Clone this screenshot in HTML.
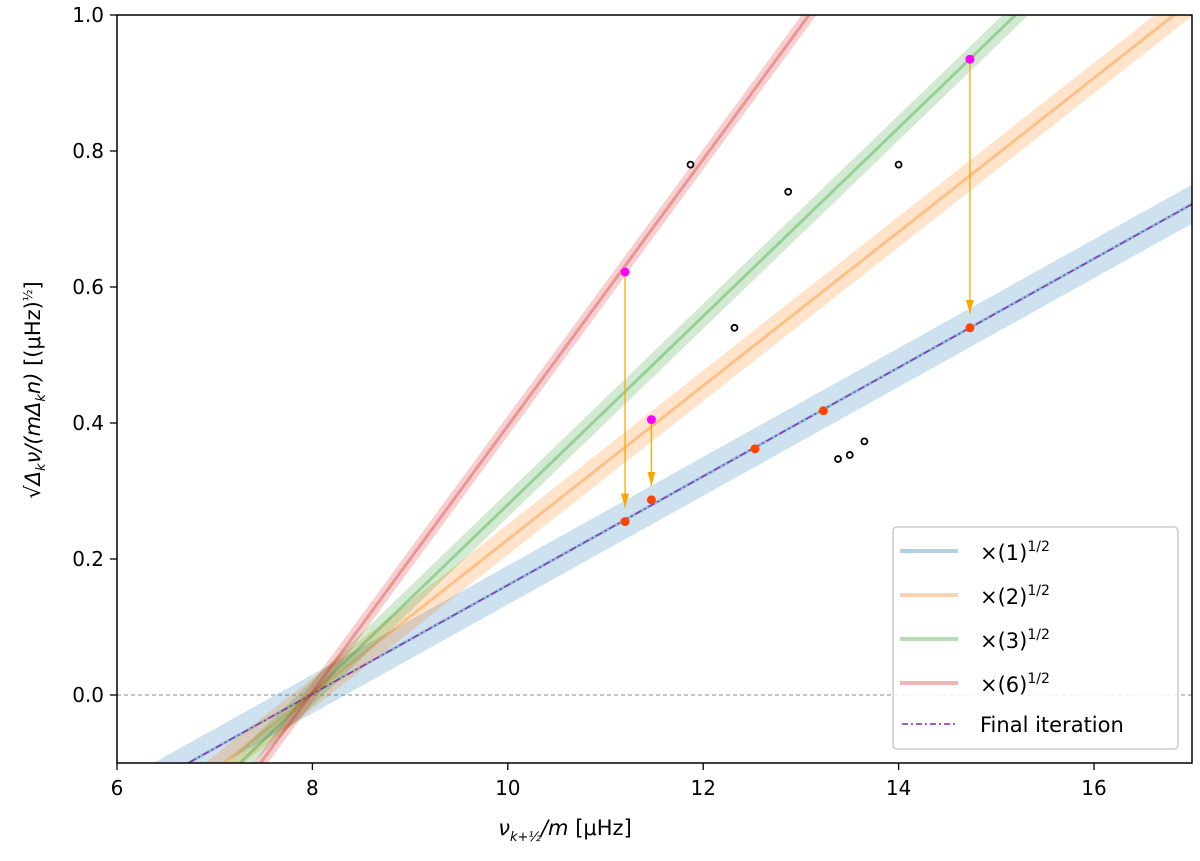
<!DOCTYPE html>
<html><head><meta charset="utf-8"><style>
html,body{margin:0;background:#fff;overflow:hidden;width:1200px;height:861px;}
svg{display:block;}
svg text{font-family:"DejaVu Sans","Liberation Sans",sans-serif;fill:#000;}
</style></head><body>
<svg width="1200" height="861" id="chart" style="position:absolute;left:0;top:0">
<defs><clipPath id="clip"><rect x="117" y="15" width="1075" height="748"/></clipPath>
<marker id="arr" markerWidth="16" markerHeight="10" refX="14" refY="4" orient="auto" markerUnits="userSpaceOnUse"><path d="M0,0 L14,4 L0,8 Z" fill="orange"/></marker></defs>
<g id="plot" clip-path="url(#clip)"></g>
<g id="axes"></g>
</svg>
<script>
const xTicks=[6,8,10,12,14,16];
const yTicks=[0.0,0.2,0.4,0.6,0.8,1.0];
const factors=[1,2,3,6];
const baseSlope=0.08, pivot=7.98;
const colors=['#1f77b4','#ff7f0e','#2ca02c','#d62728'];
const bandW=[34,24,18,12];
const openX=[11.87,12.87,14.0,12.32,13.38,13.5,13.65];
const openY=[0.78,0.74,0.78,0.54,0.347,0.353,0.373];
const magX=[11.2,11.47,14.73];
const magY=[0.622,0.405,0.935];
const redX=[11.2,11.47,12.53,13.23,14.73];
const redY=[0.255,0.287,0.362,0.418,0.54];
const sx=v=>117+(v-6)*97.7;
const sy=v=>695-v*680;
const NS='http://www.w3.org/2000/svg';
function mk(tag,attrs,parent){const e=document.createElementNS(NS,tag);for(const k in attrs)e.setAttribute(k,attrs[k]);parent.appendChild(e);return e;}
const plot=document.getElementById('plot'),axes=document.getElementById('axes');
const zl=mk('line',{x1:117,x2:1192,y1:sy(0),y2:sy(0),stroke:'#888','stroke-width':1,'stroke-dasharray':'4,3'},plot);


factors.forEach((f,i)=>{
 const s=baseSlope*Math.sqrt(f);
 const x1=5,x2=18;
 const b=mk('line',{x1:sx(x1),y1:sy(s*(x1-pivot)),x2:sx(x2),y2:sy(s*(x2-pivot)),stroke:colors[i],'stroke-width':bandW[i],'stroke-opacity':0.22},plot);
 
 
 const l=mk('line',{x1:sx(x1),y1:sy(s*(x1-pivot)),x2:sx(x2),y2:sy(s*(x2-pivot)),stroke:colors[i],'stroke-width':3,'stroke-opacity':0.35},plot);
 
 
});
const fin=mk('line',{x1:sx(5),y1:sy(baseSlope*(5-pivot)),x2:sx(18),y2:sy(baseSlope*(18-pivot)),stroke:'#8e24aa','stroke-width':1.3,'stroke-dasharray':'7,3,2,3'},plot);


magX.forEach((x,i)=>{
 const ty=redY[redX.indexOf(x)];
 const a=mk('line',{x1:sx(x),y1:sy(magY[i]),x2:sx(x),y2:sy(ty)-14,stroke:'orange','stroke-width':1.3,'marker-end':'url(#arr)'},plot);
 
 
});
openX.forEach((x,i)=>{const c=mk('circle',{cx:sx(x),cy:sy(openY[i]),r:3,fill:'none',stroke:'#000','stroke-width':1.8},plot);
 
 });
magX.forEach((x,i)=>{const c=mk('circle',{cx:sx(x),cy:sy(magY[i]),r:4.5,fill:'#ff00ff'},plot);
 
 });
redX.forEach((x,i)=>{const c=mk('circle',{cx:sx(x),cy:sy(redY[i]),r:4.5,fill:'#ff4500'},plot);
 
 });
const fr=mk('rect',{x:117,y:15,width:1075,height:748,fill:'none',stroke:'#000','stroke-width':1.5},axes);


xTicks.forEach(t=>{mk('line',{x1:sx(t),x2:sx(t),y1:763,y2:770,stroke:'#000','stroke-width':1.3},axes);
 const tx=mk('text',{x:sx(t),y:795,'text-anchor':'middle','font-size':20},axes);tx.textContent=t;
 
 });
yTicks.forEach(t=>{mk('line',{x1:110,x2:117,y1:sy(t),y2:sy(t),stroke:'#000','stroke-width':1.3},axes);
 const tx=mk('text',{x:104,y:sy(t)+7,'text-anchor':'end','font-size':20},axes);tx.textContent=t.toFixed(1);
 
 });
</script>
<svg style="position:absolute;left:0;top:0" width="1200" height="861">
<text x="565" y="835" font-size="21" text-anchor="middle" font-family="DejaVu Sans,sans-serif"><tspan font-style="italic">ν</tspan><tspan font-size="13" font-style="italic" dy="6">k+½</tspan><tspan dy="-6" font-style="italic">/m</tspan>  [μHz]</text>
<text transform="translate(40,390) rotate(-90)" font-size="21" text-anchor="middle" font-family="DejaVu Sans,sans-serif">√<tspan font-style="italic">Δ<tspan font-size="13" dy="5">k</tspan><tspan dy="-5">ν/(mΔ</tspan><tspan font-size="13" dy="5">k</tspan><tspan dy="-5">n)</tspan></tspan>   [(μHz)<tspan font-size="12" dy="-8">½</tspan><tspan dy="8">]</tspan></text>
<g font-family="DejaVu Sans,sans-serif" font-size="21">
<rect x="893" y="527" width="285" height="222" rx="4" fill="#fff" fill-opacity="0.85" stroke="#ccc" stroke-width="1.5"/>
<line x1="900" x2="958" y1="551" y2="551" stroke="#1f77b4" stroke-opacity="0.35" stroke-width="4"/>
<text x="980" y="560">×(1)<tspan font-size="14" dy="-9">1/2</tspan></text>
<line x1="900" x2="958" y1="595" y2="595" stroke="#ff7f0e" stroke-opacity="0.35" stroke-width="4"/>
<text x="980" y="604">×(2)<tspan font-size="14" dy="-9">1/2</tspan></text>
<line x1="900" x2="958" y1="639" y2="639" stroke="#2ca02c" stroke-opacity="0.35" stroke-width="4"/>
<text x="980" y="648">×(3)<tspan font-size="14" dy="-9">1/2</tspan></text>
<line x1="900" x2="958" y1="683" y2="683" stroke="#d62728" stroke-opacity="0.35" stroke-width="4"/>
<text x="980" y="692">×(6)<tspan font-size="14" dy="-9">1/2</tspan></text>
<line x1="902" x2="956" y1="724" y2="724" stroke="#8e24aa" stroke-width="1.5" stroke-dasharray="6,3,2,3"/>
<text x="980" y="732">Final iteration</text>
</g>
</svg>
</body></html>
